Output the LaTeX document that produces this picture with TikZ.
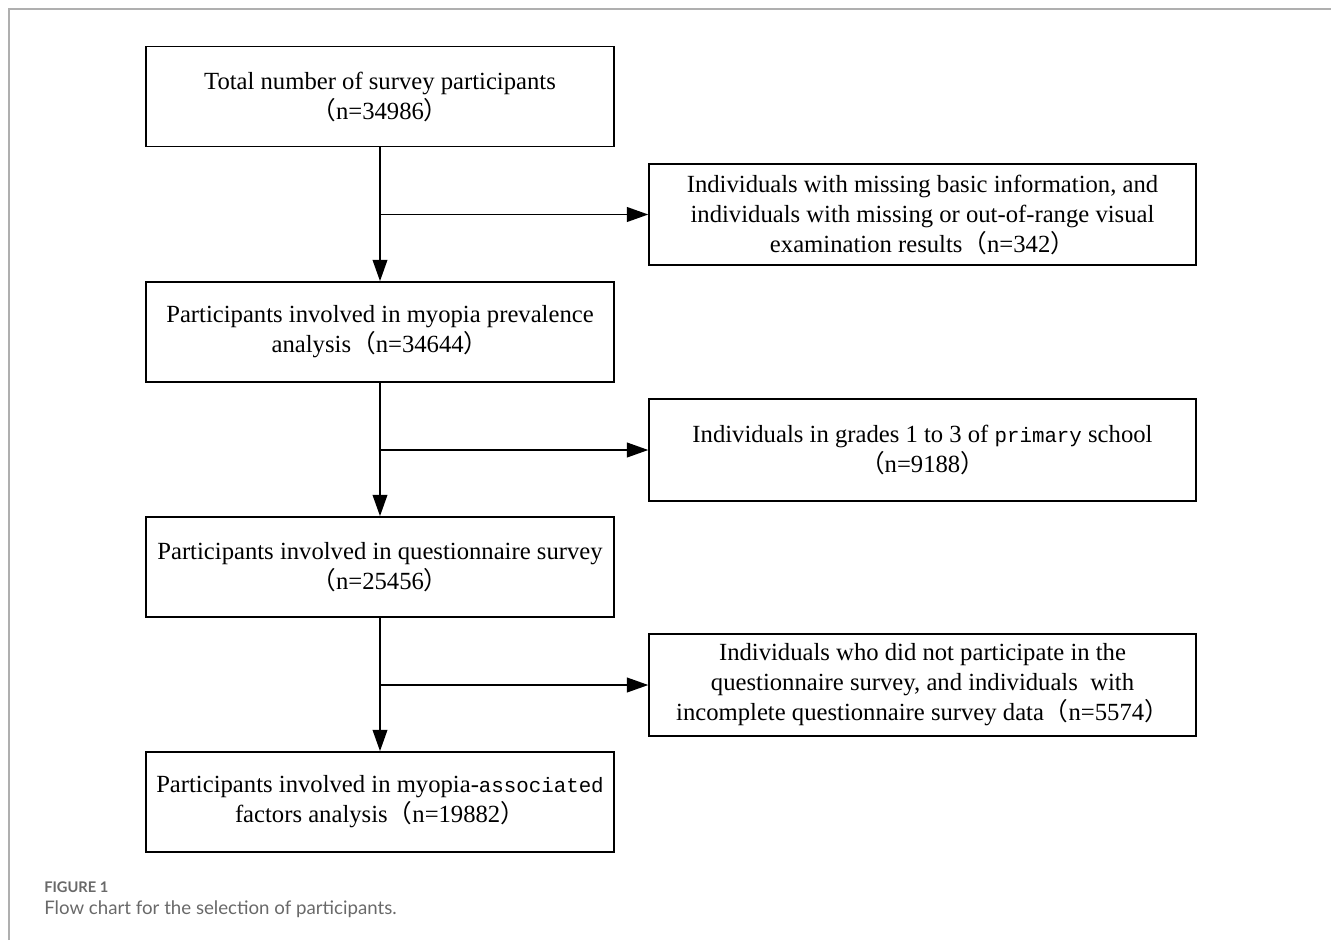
\documentclass[tikz,border=0pt]{standalone}
\usepackage{fontspec}
\setmainfont{Liberation Serif}
\newfontfamily\cjk{Noto Sans CJK SC}
\newfontfamily\capfont{Lato}
\newfontfamily\monof{Liberation Mono}
\usetikzlibrary{arrows.meta}
\definecolor{capgray}{RGB}{105,105,105}
\definecolor{framegray}{RGB}{175,175,175}
\newcommand{\lp}{{\cjk （}}
\newcommand{\rp}{{\cjk ）}}
\newcommand{\mymono}[1]{{\monof\fontsize{15.6}{22.5}\selectfont #1}}
\begin{document}
\begin{tikzpicture}[x=0.75pt,y=-0.75pt,
  box/.style={draw,line width=1.3pt,align=center,inner sep=0pt,font=\fontsize{18.5}{22.5}\selectfont},
  lbox/.style={box,minimum width=351pt,minimum height=75pt},
  rbox/.style={box,minimum width=410pt,minimum height=76pt},
  conn/.style={line width=1.3pt,-{Triangle[length=16pt,width=11pt]}},
  captxt/.style={anchor=base west,text=capgray,inner sep=0pt}]
\useasboundingbox (0,0) rectangle (1331,940);
\draw[framegray,line width=1.4pt] (9,940) -- (9,9) -- (1331,9);

\node[lbox] (a) at (380,96.5) {Total number of survey participants\\\lp n=34986\rp};
\node[rbox] (b) at (922.5,214.5) {Individuals with missing basic information, and\\individuals with missing or out-of-range visual\\examination results\lp n=342\rp};
\node[lbox] (c) at (380,332) {Participants involved in myopia prevalence\\analysis\lp n=34644\rp};
\node[rbox] (d) at (922.5,450) {Individuals in grades 1 to 3 of \mymono{primary} school\\\lp n=9188\rp};
\node[lbox] (e) at (380,567) {Participants involved in questionnaire survey\\\lp n=25456\rp};
\node[rbox] (f) at (922.5,685) {Individuals who did not participate in the\\questionnaire survey, and individuals\ \ with\\incomplete questionnaire survey data\lp n=5574\rp};
\node[lbox] (g) at (380,802) {Participants involved in myopia-\mymono{associated}\\factors analysis\lp n=19882\rp};

\draw[conn] (a.south) -- (c.north);
\draw[conn] (a.south |- b.west) -- (b.west);
\draw[conn] (c.south) -- (e.north);
\draw[conn] (c.south |- d.west) -- (d.west);
\draw[conn] (e.south) -- (g.north);
\draw[conn] (e.south |- f.west) -- (f.west);

\node[captxt,font=\capfont\bfseries\fontsize{11}{12}\selectfont] (fig) at (44,892) {FIGURE 1};
\node[captxt,font=\capfont\fontsize{14}{16}\selectfont] (cap) at (44,914) {Flow chart for the selection of participants.};
\end{tikzpicture}
\end{document}
